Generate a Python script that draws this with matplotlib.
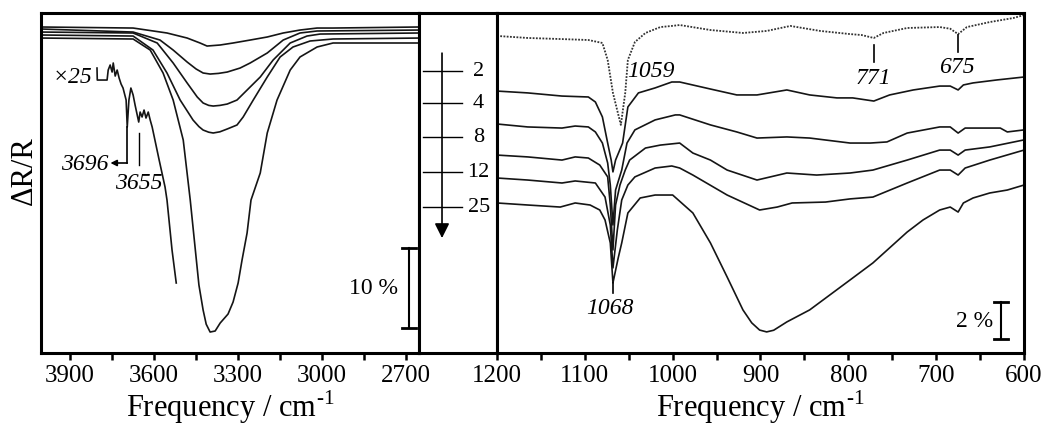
import matplotlib
matplotlib.use('Agg')
import matplotlib.pyplot as plt
from matplotlib.ticker import MultipleLocator

plt.rcParams['font.family'] = ['Liberation Serif', 'DejaVu Serif']
plt.rcParams['mathtext.fontset'] = 'custom'
plt.rcParams['mathtext.rm'] = 'Liberation Serif'

# 循环次数
cycles = ['2', '4', '8', '12', '25']

# O-H 伸缩振动区 (ΔR/R, %, 已叠加偏移)
oh_f2 = [4004, 3675, 3554, 3482, 3436, 3411, 3364, 3318, 3257, 3196, 3139, 3079, 3018, 2961, 2654]
oh_r2 = [-1.75, -1.88, -2.5, -3.13, -3.75, -4.13, -4.0, -3.75, -3.38, -3.0, -2.5, -2.13, -1.88, -1.88, -1.75]

oh_f4 = [4004, 3675, 3579, 3532, 3482, 3450, 3425, 3400, 3370, 3339, 3293, 3257, 3196, 3139, 3079, 3018, 2654]
oh_r4 = [-2.0, -2.38, -3.38, -4.63, -6.13, -7.0, -7.5, -7.63, -7.55, -7.38, -6.88, -6.25, -5.0, -3.38, -2.5, -2.25,
         -2.13]

oh_f8 = [4004, 3675, 3589, 3532, 3482, 3446, 3425, 3405, 3389, 3365, 3339, 3304, 3268, 3221, 3175, 3114, 3054, 3007,
         2654]
oh_r8 = [-2.38, -2.5, -3.75, -6.25, -8.75, -10.5, -11.25, -11.55, -11.63, -11.55, -11.38, -10.88, -9.63, -8.0, -5.88,
         -3.75, -2.88, -2.63, -2.5]

oh_f12 = [4004, 3675, 3604, 3554, 3507, 3461, 3440, 3425, 3405, 3389, 3365, 3339, 3304, 3282, 3246, 3196, 3150, 3104,
          3043, 2961, 2654]
oh_r12 = [-2.75, -2.88, -4.63, -7.5, -10.88, -13.38, -14.2, -14.63, -14.9, -15.0, -14.85, -14.5, -14.0, -13.0, -10.88,
          -8.0, -5.5, -4.25, -3.5, -3.25, -3.13]

oh_f25 = [4004, 3675, 3614, 3568, 3532, 3496, 3471, 3440, 3425, 3414, 3400, 3382, 3364, 3336, 3318, 3300, 3286, 3268,
          3254, 3221, 3196, 3161, 3114, 3079, 3018, 2961, 2654]
oh_r25 = [-3.13, -3.25, -4.63, -7.5, -10.88, -15.88, -23.38, -34.0, -37.13, -38.9, -39.88, -39.75, -38.75, -37.63,
          -36.13, -33.75, -30.88, -27.5, -23.38, -20.0, -15.0, -10.88, -7.13, -5.5, -4.25, -3.75, -3.75]

# 25 次循环放大 25 倍的局部
x25_f = [3804, 3803, 3768, 3764, 3757, 3750, 3746, 3739, 3732, 3725, 3718, 3711, 3700, 3696, 3690, 3683, 3675, 3668,
         3655, 3650, 3643, 3636, 3629, 3621, 3614, 3607, 3582, 3561, 3554, 3536, 3521]
x25_r = [-6.88, -8.38, -8.38, -7.13, -6.5, -7.38, -6.25, -7.88, -7.13, -8.13, -8.88, -9.38, -10.88, -14.25, -10.88,
         -9.38, -10.25, -11.5, -13.63, -12.38, -13.0, -12.13, -13.13, -12.38, -13.38, -14.25, -18.38, -21.75, -23.38,
         -29.63, -33.75]

# Si-O 区
ref_f = [1200, 1165, 1126, 1096, 1080, 1074, 1068, 1059, 1054, 1051, 1043, 1031, 1014, 1001, 992, 957, 920, 893, 866,
         832, 798, 785, 771, 760, 733, 696, 684, 675, 665, 639, 612, 600]
ref_r = [-1.24, -1.35, -1.41, -1.46, -1.62, -2.54, -4.32, -6.05, -4.32, -2.54, -1.57, -1.08, -0.76, -0.70, -0.65,
         -0.92, -1.08, -0.97, -0.70, -0.97, -1.14, -1.19, -1.35, -1.08, -0.81, -0.76, -0.85, -1.14, -0.76, -0.49,
         -0.27, -0.11]

si_f2 = [1200, 1165, 1126, 1096, 1088, 1080, 1074, 1070, 1068, 1065, 1057, 1051, 1039, 1020, 1001, 992, 957, 927, 904,
         870, 844, 813, 795, 771, 753, 726, 696, 684, 675, 669, 658, 631, 600]
si_r2 = [-4.22, -4.32, -4.49, -4.54, -4.81, -5.62, -7.03, -7.95, -8.59, -7.95, -7.03, -5.08, -4.32, -4.05, -3.73,
         -3.73, -4.11, -4.43, -4.43, -4.16, -4.43, -4.59, -4.59, -4.76, -4.43, -4.16, -3.95, -3.95, -4.16, -3.89,
         -3.78, -3.62, -3.46]

si_f4 = [1200, 1165, 1126, 1111, 1096, 1088, 1080, 1074, 1071, 1068, 1065, 1058, 1052, 1043, 1020, 997, 992, 957, 927,
         904, 870, 844, 798, 775, 756, 733, 696, 684, 675, 667, 650, 627, 619, 600]
si_r4 = [-6.00, -6.16, -6.22, -6.11, -6.16, -6.43, -7.03, -8.11, -9.3, -11.46, -9.57, -8.49, -7.03, -6.32, -5.78,
         -5.51, -5.51, -6.05, -6.43, -6.76, -6.70, -6.76, -7.03, -7.03, -6.97, -6.49, -6.16, -6.16, -6.49, -6.22,
         -6.22, -6.22, -6.43, -6.32]

si_f8 = [1200, 1165, 1126, 1111, 1096, 1083, 1074, 1071, 1068, 1065, 1060, 1054, 1049, 1031, 1014, 992, 977, 957, 938,
         904, 870, 836, 798, 772, 733, 696, 684, 675, 667, 639, 600]
si_r8 = [-7.68, -7.78, -7.95, -7.78, -7.84, -8.22, -8.86, -10.38, -12.81, -10.38, -9.30, -8.49, -7.95, -7.30, -7.14,
         -7.03, -7.57, -7.95, -8.49, -9.03, -8.65, -8.76, -8.65, -8.49, -7.95, -7.41, -7.41, -7.68, -7.41, -7.24,
         -6.86]

si_f12 = [1200, 1165, 1126, 1111, 1088, 1077, 1071, 1068, 1063, 1058, 1051, 1043, 1020, 1001, 992, 977, 938, 901, 881,
          864, 826, 798, 772, 733, 696, 684, 675, 667, 639, 600]
si_r12 = [-8.92, -9.03, -9.19, -9.08, -9.19, -9.95, -11.46, -13.78, -11.73, -10.11, -9.30, -8.86, -8.38, -8.27, -8.38,
          -8.76, -9.84, -10.65, -10.49, -10.27, -10.22, -10.05, -9.95, -9.19, -8.49, -8.49, -8.76, -8.38, -7.95,
          -7.41]

si_f25 = [1200, 1165, 1128, 1111, 1094, 1083, 1077, 1071, 1068, 1062, 1058, 1051, 1037, 1020, 1000, 977, 957, 938, 920,
          910, 901, 893, 885, 870, 844, 798, 772, 733, 715, 696, 684, 675, 669, 658, 639, 619, 600]
si_r25 = [-10.27, -10.38, -10.49, -10.27, -10.38, -10.65, -11.19, -12.43, -14.59, -13.24, -12.43, -10.81, -10.00,
          -9.84, -9.84, -10.81, -12.43, -14.27, -16.05, -16.75, -17.14, -17.24, -17.15, -16.7, -16.05, -14.43,
          -13.51, -11.84, -11.19, -10.65, -10.49, -10.76, -10.27, -10.00, -9.73, -9.57, -9.30]

line_kw = dict(color='#151515', lw=1.2)
ann_kw = dict(fontsize=17, style='italic')
xlab = 'Frequency / cm$^{\\text{-1}}$'

fig = plt.figure(figsize=(10.44, 4.25), dpi=100)
ax1 = fig.add_axes([41 / 1044, 72 / 425, 378 / 1044, 340 / 425])
ax2 = fig.add_axes([419 / 1044, 72 / 425, 78 / 1044, 340 / 425])
ax3 = fig.add_axes([497 / 1044, 72 / 425, 527 / 1044, 340 / 425])

# 左图: O-H 区
for f, r in [(oh_f2, oh_r2), (oh_f4, oh_r4), (oh_f8, oh_r8), (oh_f12, oh_r12), (oh_f25, oh_r25)]:
    ax1.plot(f, r, **line_kw)
ax1.plot(x25_f, x25_r, **line_kw)
ax1.set_xlim(4004, 2654)
ax1.set_ylim(-42.5, 0)
ax1.xaxis.set_major_locator(MultipleLocator(300))
ax1.xaxis.set_minor_locator(MultipleLocator(150))

ax1.text(3821, -8.1, '×25', ha='right', va='center', **ann_kw)
ax1.plot([3696, 3696], [-14.25, -18.75], color='k', lw=1.2)
ax1.annotate('', xy=(3756, -18.75), xytext=(3696, -18.75),
             arrowprops=dict(arrowstyle='-|>', color='k', lw=1.2, mutation_scale=9, shrinkA=0, shrinkB=0))
ax1.text(3762, -19.0, '3696', ha='right', va='center', **ann_kw)
ax1.plot([3655, 3655], [-15.0, -19.0], color='k', lw=1.0)
ax1.text(3655, -21.3, '3655', ha='center', va='center', **ann_kw)

# 10 % 标尺
ax1.plot([2689, 2689], [-29.38, -39.38], color='k', lw=1.5)
ax1.plot([2714, 2664], [-29.38, -29.38], color='k', lw=2)
ax1.plot([2714, 2664], [-39.38, -39.38], color='k', lw=2)
ax1.text(2729, -34.4, '10 %', ha='right', va='center', fontsize=17)

ax1.set_xlabel(xlab, fontsize=22, labelpad=1)

# 中间: 循环次数箭头
ax2.set_xlim(0, 1)
ax2.set_ylim(0, 1)
ax2.set_xticks([])
ax2.set_yticks([])
ax2.annotate('', xy=(0.295, 0.338), xytext=(0.295, 0.882),
             arrowprops=dict(arrowstyle='-|>', color='k', lw=1.2, mutation_scale=22, shrinkA=0, shrinkB=0))
for c, yy in zip(cycles, [0.829, 0.735, 0.635, 0.532, 0.429]):
    ax2.plot([0.05, 0.55], [yy, yy], color='k', lw=1.0)
    ax2.text(0.765, yy, c, ha='center', va='center', fontsize=16)

# 右图: Si-O 区
ax3.plot(ref_f, ref_r, color='#333333', lw=1.3, ls=(0, (1, 0.8)))
for f, r in [(si_f2, si_r2), (si_f4, si_r4), (si_f8, si_r8), (si_f12, si_r12), (si_f25, si_r25)]:
    ax3.plot(f, r, **line_kw)
ax3.set_xlim(1200, 600)
ax3.set_ylim(-18.38, 0)
ax3.xaxis.set_major_locator(MultipleLocator(100))
ax3.xaxis.set_minor_locator(MultipleLocator(50))

ax3.text(1052, -3.14, '1059', ha='left', va='center', **ann_kw)
ax3.plot([1068, 1068], [-14.6, -15.15], color='k', lw=1.2)
ax3.text(1071, -15.95, '1068', ha='center', va='center', **ann_kw)
ax3.plot([771, 771], [-1.73, -2.65], color='k', lw=1.2)
ax3.text(771, -3.55, '771', ha='center', va='center', **ann_kw)
ax3.plot([675, 675], [-1.19, -2.11], color='k', lw=1.2)
ax3.text(676, -2.95, '675', ha='center', va='center', **ann_kw)

# 2 % 标尺
ax3.plot([626, 626], [-15.62, -17.62], color='k', lw=1.5)
ax3.plot([634, 618], [-15.62, -15.62], color='k', lw=2)
ax3.plot([634, 618], [-17.62, -17.62], color='k', lw=2)
ax3.text(635, -16.7, '2 %', ha='right', va='center', fontsize=17)

ax3.set_xlabel(xlab, fontsize=22, labelpad=1)

for ax in (ax1, ax2, ax3):
    for s in ax.spines.values():
        s.set_linewidth(2.2)
for ax in (ax1, ax3):
    ax.set_yticks([])
    ax.tick_params(axis='x', which='both', direction='out', length=5, width=1.8, labelsize=18, pad=4)

fig.text(24 / 1044, 1 - 171 / 425, 'ΔR/R', rotation=90, ha='center', va='center', fontsize=22)

fig.savefig('out.png', dpi=100)
